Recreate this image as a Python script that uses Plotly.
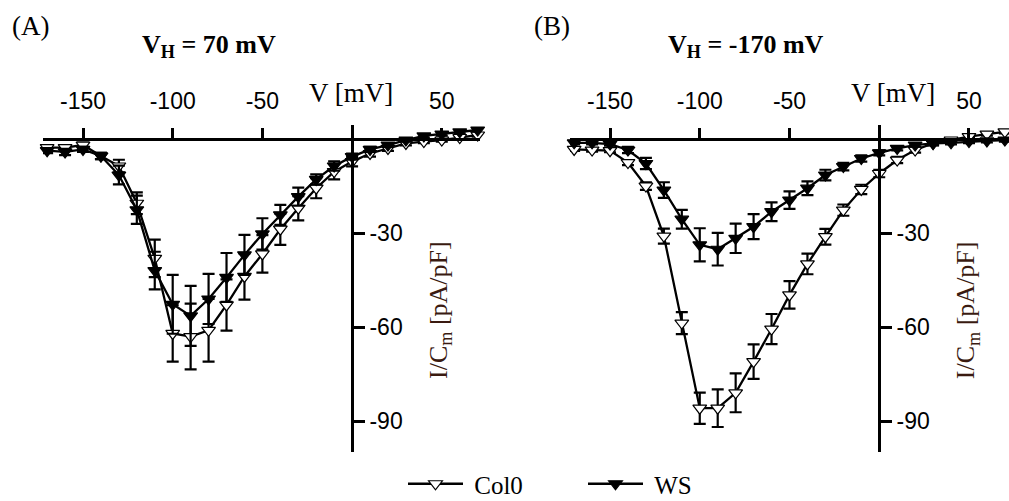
import plotly.graph_objects as go

# ---------------- data ----------------
voltage = [-170, -160, -150, -140, -130, -120, -110, -100, -90, -80, -70, -60, -50,
           -40, -30, -20, -10, 0, 10, 20, 30, 40, 50, 60, 70]

# Panel A : V_H = 70 mV
a_col0 = [-2.6, -2.6, -1.8, -5.3, -8.5, -20.4, -38.0, -62.0, -63.0, -61.0, -52.9, -43.8, -36.6,
          -28.7, -22.0, -15.6, -10.3, -7.1, -4.5, -2.9, -1.3, -0.7, -0.2, 0.6, 1.4]
a_col0_err = [0.8, 0.8, 0.8, 1.0, 2.0, 3.5, 6.0, 9.0, 10.5, 10.0, 8.2, 7.4, 6.0,
              5.0, 3.9, 3.2, 2.5, 1.5, 1.0, 0.8, 0.6, 0.5, 0.5, 0.5, 0.5]
a_ws = [-3.6, -4.0, -3.2, -5.3, -11.4, -22.5, -41.9, -52.7, -56.4, -51.0, -44.1, -36.9, -30.2,
        -24.1, -18.3, -12.8, -8.5, -5.5, -3.2, -1.8, -0.2, 1.1, 1.7, 2.4, 3.0]
a_ws_err = [0.8, 1.0, 0.8, 1.0, 3.0, 4.5, 6.0, 9.4, 9.6, 8.0, 7.8, 6.4, 5.0,
            3.2, 2.9, 1.6, 1.5, 1.0, 0.8, 0.6, 0.5, 0.5, 0.5, 0.5, 0.5]

# Panel B : V_H = -170 mV
b_col0 = [-3.2, -3.4, -3.6, -7.4, -14.9, -30.9, -58.7, -85.9, -85.9, -81.0, -71.0, -60.6, -49.7,
          -39.8, -31.1, -22.6, -16.0, -10.9, -6.6, -3.4, -1.3, -0.2, 0.9, 1.7, 2.4]
b_col0_err = [0.5, 0.5, 0.5, 0.8, 1.2, 2.4, 3.5, 5.0, 6.0, 6.2, 5.5, 4.8, 4.4,
              3.3, 2.5, 1.8, 1.5, 1.2, 1.0, 0.8, 0.6, 0.5, 0.5, 0.5, 0.5]
b_ws = [-1.1, -1.1, -1.5, -3.4, -7.7, -16.2, -25.5, -33.7, -35.1, -31.6, -27.9, -23.1, -19.4,
        -15.6, -11.4, -8.7, -6.1, -4.3, -2.9, -1.8, -1.3, -1.1, -0.7, -0.5, -0.2]
b_ws_err = [0.5, 0.5, 0.5, 1.0, 1.8, 2.5, 3.0, 5.3, 5.2, 4.7, 4.0, 3.0, 2.8,
            2.2, 1.7, 1.2, 1.0, 0.8, 0.6, 0.5, 0.5, 0.5, 0.5, 0.5, 0.5]

x_ticks = [-150, -100, -50, 50]
x_tick_text = ["-150", "-100", "-50", "50"]
y_ticks = [-90, -60, -30]
y_tick_text = ["-90", "-60", "-30"]
series_names = ["Col0", "WS"]
panel_labels = ["(A)", "(B)"]
panel_titles = ["V<sub>H</sub> = 70 mV", "V<sub>H</sub> = -170 mV"]

# ---------------- layout geometry ----------------
W, H = 1009, 501

def px(vx):
    return vx / W

def py(vy):
    return 1 - vy / H

x_range_a = [-172.3, 71.3]
x_range_b = [-172.3, 72.3]
y_range = [-99.8, 4.6]
x_dom_a = [px(43), px(480)]
x_dom_b = [px(570), 1.0]
y_dom = [py(451.7), py(125)]

def frac(v, rng, dom):
    return dom[0] + (v - rng[0]) / (rng[1] - rng[0]) * (dom[1] - dom[0])

serif = "Liberation Serif, Times New Roman, serif"
sans = "Liberation Sans, Arial, sans-serif"

fig = go.Figure()

def add_series(xa, ya, y, err, name, filled, show):
    fig.add_trace(go.Scatter(
        x=voltage, y=y, xaxis=xa, yaxis=ya, name="\u00a0" + name, showlegend=show,
        mode="lines+markers",
        line=dict(color="black", width=2.3),
        marker=dict(symbol="triangle-down", size=12,
                    color="black" if filled else "white",
                    line=dict(color="black", width=1.2)),
        error_y=dict(type="data", array=err, visible=True, color="black",
                     thickness=2.2, width=6),
        cliponaxis=False,
    ))

add_series("x", "y", a_col0, a_col0_err, series_names[0], False, True)
add_series("x", "y", a_ws, a_ws_err, series_names[1], True, True)
add_series("x2", "y2", b_col0, b_col0_err, series_names[0], False, False)
add_series("x2", "y2", b_ws, b_ws_err, series_names[1], True, False)

def xaxis_cfg(rng, dom):
    return dict(range=rng, domain=dom, anchor="free",
                position=frac(0, y_range, y_dom), side="top",
                showline=True, linecolor="black", linewidth=2.5,
                ticks="outside", ticklen=11, tickwidth=2.5, tickcolor="black",
                tickvals=x_ticks, ticktext=x_tick_text, ticklabelstandoff=9,
                showgrid=False, zeroline=False, automargin=False,
                tickfont=dict(family=sans, size=23, color="black"))

def yaxis_cfg(xrng, xdom):
    return dict(range=y_range, domain=y_dom, anchor="free",
                position=frac(0, xrng, xdom), side="right",
                showline=True, linecolor="black", linewidth=2.5,
                ticks="outside", ticklen=11, tickwidth=2.5, tickcolor="black",
                tickvals=y_ticks, ticktext=y_tick_text,
                showgrid=False, zeroline=False, automargin=False,
                tickfont=dict(family=sans, size=23, color="black"))

fig.update_layout(
    width=W, height=H,
    margin=dict(l=0, r=0, t=0, b=0, autoexpand=False),
    paper_bgcolor="white", plot_bgcolor="white",
    xaxis=xaxis_cfg(x_range_a, x_dom_a),
    yaxis=yaxis_cfg(x_range_a, x_dom_a),
    xaxis2=xaxis_cfg(x_range_b, x_dom_b),
    yaxis2=yaxis_cfg(x_range_b, x_dom_b),
    legend=dict(orientation="h", x=px(403), xanchor="left", y=py(484), yanchor="middle",
                font=dict(family=serif, size=25, color="black"),
                itemwidth=55, entrywidth=110, entrywidthmode="pixels",
                bgcolor="rgba(0,0,0,0)"),
    showlegend=True,
)

annotations = []
for lbl, lx in zip(panel_labels, [10, 532]):
    annotations.append(dict(text=lbl, x=px(lx), y=py(26), xref="paper", yref="paper",
                            xanchor="left", yanchor="middle", showarrow=False,
                            font=dict(family=serif, size=27, color="black")))
for ttl, tx in zip(panel_titles, [209, 746]):
    annotations.append(dict(text="<b>" + ttl + "</b>", x=px(tx), y=py(46), xref="paper", yref="paper",
                            xanchor="center", yanchor="middle", showarrow=False,
                            font=dict(family=serif, size=26, color="black")))
for xr, xl in [("x", -25), ("x2", -17)]:
    annotations.append(dict(text="V [mV]", x=xl, y=py(93), xref=xr, yref="paper",
                            xanchor="left", yanchor="middle", showarrow=False,
                            font=dict(family=serif, size=27, color="black")))
for xr in ["x", "x2"]:
    annotations.append(dict(text="I/C<sub>m</sub> [pA/pF]", x=49, y=py(310), xref=xr, yref="paper",
                            xanchor="center", yanchor="middle", textangle=-90, showarrow=False,
                            font=dict(family=serif, size=26, color="#3a1a10")))
fig.update_layout(annotations=annotations)

# remove the default page margin so the figure fills the window exactly
fig.write_html("out.html", config={"displayModeBar": False},
               post_script="document.body.style.margin='0';document.body.style.overflow='hidden';")
